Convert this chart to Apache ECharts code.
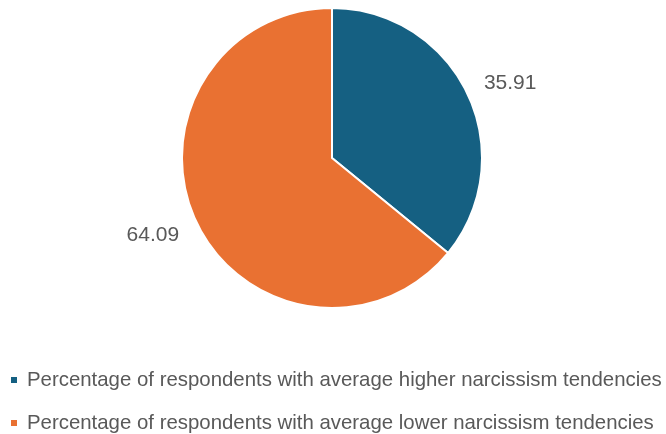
<!DOCTYPE html>
<html><head><meta charset="utf-8">
<script src="https://cdn.jsdelivr.net/npm/echarts@6/dist/echarts.min.js"></script>
<style>html,body{margin:0;padding:0;background:#fff}#c{width:666px;height:434px}</style>
</head><body><div id="c"></div>
<script>
const categories = [
  "Percentage of respondents with average higher narcissism tendencies",
  "Percentage of respondents with average lower narcissism tendencies"
];
const values = [35.91, 64.09];
const colors = ["#156082", "#E97132"];
const labelOffsets = [[2, 9], [-3, -6]];

const data = categories.map((n, i) => ({ name: n, value: values[i], itemStyle: { color: colors[i] } }));
const chart = echarts.init(document.getElementById('c'), null, { renderer: 'canvas' });
chart.setOption({
  animation: false,
  backgroundColor: '#ffffff',
  legend: {
    orient: 'vertical',
    left: 9,
    top: 370,
    padding: 0,
    itemWidth: 8,
    itemHeight: 8,
    itemGap: 23,
    icon: 'rect',
    data: categories,
    textStyle: { fontFamily: 'Liberation Sans, Arial, sans-serif', fontSize: 20.4, lineHeight: 20, color: '#595959', padding: [0, 0, 0, 4] }
  },
  series: [
    {
      type: 'pie',
      center: [332, 158],
      radius: [0, 150],
      startAngle: 90,
      clockwise: true,
      data: data,
      itemStyle: { borderColor: '#ffffff', borderWidth: 2 },
      label: { show: false },
      labelLine: { show: false },
      emphasis: { disabled: true }
    },
    {
      type: 'pie',
      center: [332, 158],
      radius: [150, 234],
      startAngle: 90,
      clockwise: true,
      silent: true,
      data: data.map((d, i) => ({ name: d.name, value: d.value, itemStyle: { color: 'rgba(0,0,0,0)' }, label: { offset: labelOffsets[i] } })),
      itemStyle: { borderWidth: 0 },
      label: {
        show: true, position: 'inside',
        formatter: p => p.value.toFixed(2),
        fontFamily: 'Liberation Sans, Arial, sans-serif',
        fontSize: 21, color: '#595959'
      },
      labelLine: { show: false },
      emphasis: { disabled: true }
    }
  ]
});
</script></body></html>
